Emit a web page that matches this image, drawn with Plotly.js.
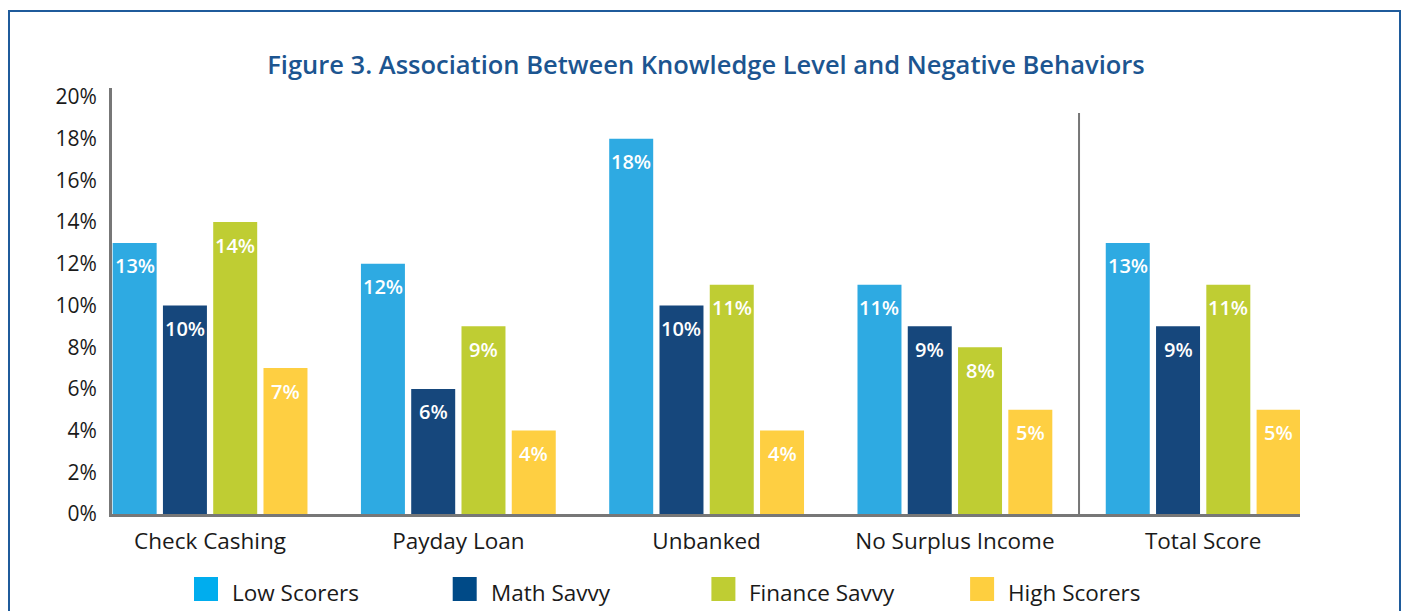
<!DOCTYPE html>
<html>
<head>
<meta charset="utf-8">
<script src="https://cdn.plot.ly/plotly-3.0.1.min.js"></script>
<style>
  html, body { margin: 0; padding: 0; background: #fff; }
  #wrap { position: relative; width: 1403px; height: 611px; overflow: hidden; }
  #chart { position: absolute; left: 0; top: 0; width: 1403px; height: 611px; }
  #frame { position: absolute; left: 8px; top: 10px; width: 1389px; height: 700px;
           border: 2px solid #1f5b9b; pointer-events: none; }
</style>
</head>
<body>
<div id="wrap">
  <div id="chart"></div>
  <div id="frame"></div>
</div>
<script>
// ---- data ----
const categories = ["Check Cashing", "Payday Loan", "Unbanked", "No Surplus Income", "Total Score"];
const seriesNames = ["Low Scorers", "Math Savvy", "Finance Savvy", "High Scorers"];
const lowScorers   = [13, 12, 18, 11, 13];
const mathSavvy    = [10, 6, 10, 9, 9];
const financeSavvy = [14, 9, 11, 8, 11];
const highScorers  = [7, 4, 4, 5, 5];
const yTickVals  = [0, 2, 4, 6, 8, 10, 12, 14, 16, 18, 20];
const yTickText  = ["0%", "2%", "4%", "6%", "8%", "10%", "12%", "14%", "16%", "18%", "20%"];
const title = "Figure 3. Association Between Knowledge Level and Negative Behaviors";

// ---- style ----
const seriesValues = [lowScorers, mathSavvy, financeSavvy, highScorers];
const barColors = ["#2eaae2", "#16477c", "#bfcd33", "#fecf42"];
const legendColors = ["#00adee", "#004a87", "#bfcd33", "#fecf3f"];
const FONT = "Open Sans, Noto Sans, sans-serif";

// plot area geometry in pixels
const L = 112, R = 1300, T = 88, B = 514;
const W = 1403, H = 611;
const px2x = p => (p - L) / (R - L);
const px2y = p => (B - p) / (B - T);

const traces = seriesNames.map((name, i) => ({
  type: "bar",
  name: name,
  x: categories,
  y: seriesValues[i],
  marker: { color: barColors[i], line: { width: 0 } },
  hoverinfo: "x+y+name",
  showlegend: false
}));

const annotations = [];
// value labels inside bar tops
const slot = 50.3;
seriesValues.forEach((vals, i) => {
  vals.forEach((v, j) => {
    annotations.push({
      x: categories[j], y: v, xref: "x", yref: "y",
      text: v + "%", showarrow: false,
      xshift: (i - 1.5) * slot, yshift: -23,
      xanchor: "center", yanchor: "middle",
      font: { family: FONT, size: 20, color: "#ffffff", weight: 600 }
    });
  });
});

// custom legend
const shapes = [];
const legStart = 194, legStep = 258.7, sq = 24, legTop = 577;
seriesNames.forEach((name, i) => {
  const x0 = legStart + i * legStep;
  shapes.push({
    type: "rect", xref: "paper", yref: "paper",
    x0: px2x(x0), x1: px2x(x0 + sq), y0: px2y(legTop + sq), y1: px2y(legTop),
    fillcolor: legendColors[i], line: { width: 0 }
  });
  annotations.push({
    xref: "paper", yref: "paper", x: px2x(x0 + 36), y: px2y(592),
    text: name, showarrow: false, xanchor: "left", yanchor: "middle",
    font: { family: FONT, size: 22.5, color: "#1a1a1a" }
  });
});

// separator before Total Score
shapes.push({
  type: "line", xref: "x", yref: "y",
  x0: 3.5, x1: 3.5, y0: 0, y1: 19.23,
  line: { color: "#777777", width: 2 }
});

const layout = {
  width: W, height: H,
  margin: { l: L, r: W - R, t: T, b: H - B, pad: 0 },
  paper_bgcolor: "#ffffff", plot_bgcolor: "#ffffff",
  title: {
    text: title, x: 0.5, xref: "paper", xanchor: "center",
    y: 1 - 65 / H, yref: "container", yanchor: "middle",
    font: { family: FONT, size: 25.5, color: "#1c5590", weight: 600 }
  },
  barmode: "group", bargap: 0.19, bargroupgap: 0.125,
  xaxis: {
    type: "category", range: [-0.395, 4.39], fixedrange: true,
    showline: true, linecolor: "#777777", linewidth: 3,
    showgrid: false, zeroline: false, ticks: "",
    ticklabelstandoff: 5,
    tickfont: { family: FONT, size: 22.5, color: "#1a1a1a" }
  },
  yaxis: {
    range: [0, 20.43], fixedrange: true,
    tickvals: yTickVals, ticktext: yTickText,
    showline: true, linecolor: "#777777", linewidth: 3,
    showgrid: false, zeroline: false, ticks: "",
    ticklabelstandoff: 8,
    tickfont: { family: FONT, size: 21, color: "#1a1a1a" }
  },
  showlegend: false,
  shapes: shapes,
  annotations: annotations
};

Plotly.newPlot("chart", traces, layout, { displayModeBar: false, staticPlot: true });
</script>
</body>
</html>
